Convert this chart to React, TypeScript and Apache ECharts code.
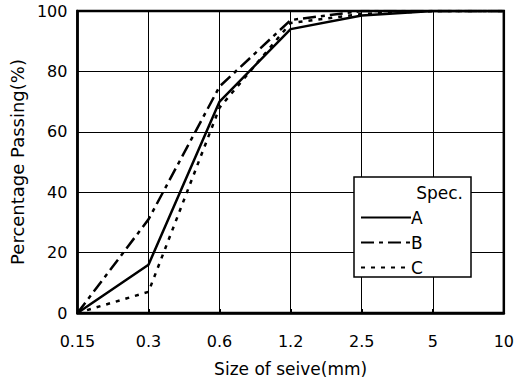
import React, { useEffect, useRef } from "react";
import * as echarts from "echarts";

const sieveSizes = ["0.15", "0.3", "0.6", "1.2", "2.5", "5", "10"];
const specA = [0, 16, 70, 94, 98.5, 100, 100];
const specB = [0, 31, 75, 97, 100, 100, 100];
const specC = [0, 7, 68, 96, 99, 100, 100];
const yTicks = { min: 0, max: 100, interval: 20 };

const FONT = "DejaVu Sans";

export default function App() {
  const ref = useRef<HTMLDivElement>(null);
  useEffect(() => {
    if (!ref.current) return;
    const chart = echarts.init(ref.current, undefined, { renderer: "svg" });
    const lineBase = { type: "line", symbol: "none", showSymbol: false, z: 5 };
    chart.setOption({
      animation: false,
      backgroundColor: "#fff",
      textStyle: { fontFamily: FONT, color: "#000" },
      grid: {
        left: 74,
        right: 9,
        top: 11,
        bottom: 68,
        show: true,
        borderColor: "#000",
        borderWidth: 2.5,
        backgroundColor: "transparent",
      },
      xAxis: {
        type: "category",
        data: sieveSizes,
        boundaryGap: false,
        name: "Size of seive(mm)",
        nameLocation: "middle",
        nameGap: 47,
        nameTextStyle: { fontFamily: FONT, fontSize: 17, color: "#000" },
        axisLine: { show: true, lineStyle: { color: "#000", width: 2.5 } },
        axisTick: { show: true, inside: true, length: 4, lineStyle: { color: "#000", width: 2 } },
        axisLabel: { fontFamily: FONT, fontSize: 16, color: "#000", margin: 20 },
        splitLine: { show: true, lineStyle: { color: "#000", width: 1 } },
      },
      yAxis: {
        type: "value",
        min: yTicks.min,
        max: yTicks.max,
        interval: yTicks.interval,
        name: "Percentage Passing(%)",
        nameLocation: "middle",
        nameGap: 50,
        nameTextStyle: { fontFamily: FONT, fontSize: 18, color: "#000" },
        axisLine: { show: true, lineStyle: { color: "#000", width: 2.5 } },
        axisTick: { show: false },
        axisLabel: { fontFamily: FONT, fontSize: 16, color: "#000", margin: 10 },
        splitLine: { show: true, lineStyle: { color: "#000", width: 1 } },
      },
      legend: {
        orient: "vertical",
        left: 355,
        top: 204,
        itemWidth: 50,
        itemHeight: 18,
        itemGap: 8,
        z: 10,
        itemStyle: { color: "rgba(0,0,0,0)", borderWidth: 0, opacity: 0 },
        textStyle: { fontFamily: FONT, fontSize: 17, color: "#000", padding: [0, 0, 0, -5] },
        data: ["A", "B", "C"],
      },
      graphic: [
        {
          type: "rect",
          z: 8,
          shape: { x: 354, y: 177, width: 117, height: 100 },
          style: { fill: "#fff", stroke: "#000", lineWidth: 1.5 },
        },
        {
          type: "text",
          z: 9,
          x: 463,
          y: 193,
          style: {
            text: "Spec.",
            fontFamily: FONT,
            fontSize: 17,
            fill: "#000",
            align: "right",
            verticalAlign: "middle",
          },
        },
      ],
      series: [
        { ...lineBase, name: "A", data: specA, itemStyle: { color: "#000" }, lineStyle: { color: "#000", width: 2.5, type: "solid" } },
        { ...lineBase, name: "B", data: specB, itemStyle: { color: "#000" }, lineStyle: { color: "#000", width: 2.5, type: [13, 5, 4, 5] } },
        { ...lineBase, name: "C", data: specC, itemStyle: { color: "#000" }, lineStyle: { color: "#000", width: 2.5, type: [4, 6] } },
      ],
    });
    return () => chart.dispose();
  }, []);
  return (
    <div
      ref={ref}
      style={{ position: "fixed", left: 0, top: 0, width: 517, height: 382 }}
    />
  );
}
